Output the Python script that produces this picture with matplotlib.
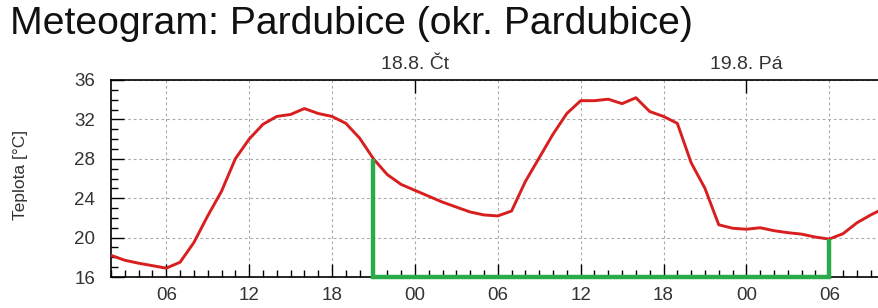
import matplotlib
matplotlib.use("Agg")
import matplotlib.pyplot as plt
from matplotlib.ticker import MultipleLocator, FuncFormatter
import numpy as np

plt.rcParams["font.family"] = ["Liberation Sans", "DejaVu Sans"]

title = "Meteogram: Pardubice (okr. Pardubice)"
y_label = "Teplota [°C]"
day_hours = [24, 48]
day_labels = ["18.8. Čt", "19.8. Pá"]

# hours counted from 17.8. 00:00
hours = list(range(2, 59))
temps = [18.2, 17.7, 17.4, 17.15, 16.9, 17.5, 19.5, 22.2, 24.7, 28.0,
         30.0, 31.5, 32.3, 32.5, 33.1, 32.6, 32.3, 31.6, 30.1, 28.0,
         26.4, 25.4, 24.8, 24.2, 23.6, 23.1, 22.6, 22.3, 22.2, 22.7,
         25.7, 28.1, 30.5, 32.6, 33.9, 33.9, 34.05, 33.6, 34.2, 32.8,
         32.3, 31.6, 27.6, 25.0, 21.3, 20.95, 20.85, 21.0, 20.7, 20.5,
         20.35, 20.05, 19.85, 20.4, 21.5, 22.3, 23.0]

# highlighted interval (hours)
span_start, span_end = 21, 54

x_min, x_max = 2, 57.6
y_min, y_max = 16, 36

W, H = 879, 308
fig = plt.figure(figsize=(W / 100, H / 100), dpi=100)
ax = fig.add_axes([111 / W, (H - 277) / H, 1 - 111 / W, (277 - 80) / H])

ax.plot(hours, temps, color="#d81e1e", lw=2.1, zorder=3)

y0 = np.interp(span_start, hours, temps)
y1 = np.interp(span_end, hours, temps)
ax.plot([span_start, span_start, span_end, span_end], [y0, y_min, y_min, y1],
        color="#2aaa4a", lw=3.2, clip_on=False, zorder=5,
        solid_joinstyle="miter", solid_capstyle="butt")

ax.set_xlim(x_min, x_max)
ax.set_ylim(y_min, y_max)

ax.xaxis.set_major_locator(MultipleLocator(6))
ax.xaxis.set_minor_locator(MultipleLocator(1))
ax.xaxis.set_major_formatter(FuncFormatter(lambda v, p: f"{int(v) % 24:02d}"))
ax.yaxis.set_major_locator(MultipleLocator(4))
ax.yaxis.set_minor_locator(MultipleLocator(1))

ax.tick_params(which="major", direction="in", length=9.5, width=1, color="black")
ax.tick_params(which="minor", direction="in", length=5, width=1, color="black")
ax.tick_params(axis="x", which="both", top=False, labelsize=13.5, pad=7.5, labelcolor="#333333")
ax.tick_params(axis="y", which="both", right=False, labelsize=13.5, pad=11.5, labelcolor="#333333")

ax.grid(True, which="major", color="#aaaaaa", ls=(0, (2.5, 2.5)), lw=0.8)
ax.spines["right"].set_visible(False)
for s in ("left", "bottom", "top"):
    ax.spines[s].set_linewidth(1.2)

ax.set_ylabel(y_label, fontsize=12.5, color="#333333")
ax.yaxis.set_label_coords(-0.108, 0.52)

top = ax.twiny()
top.set_xlim(x_min, x_max)
top.set_xticks(day_hours)
top.set_xticklabels(day_labels)
top.tick_params(axis="x", direction="in", length=9.5, width=1, pad=5,
                labelsize=14, labelcolor="#333333")
for s in top.spines.values():
    s.set_visible(False)

fig.text(10 / W, 1 - 6 / H, title, fontsize=28.2, va="top", ha="left", color="#111111")

fig.savefig("out.png", dpi=100)
